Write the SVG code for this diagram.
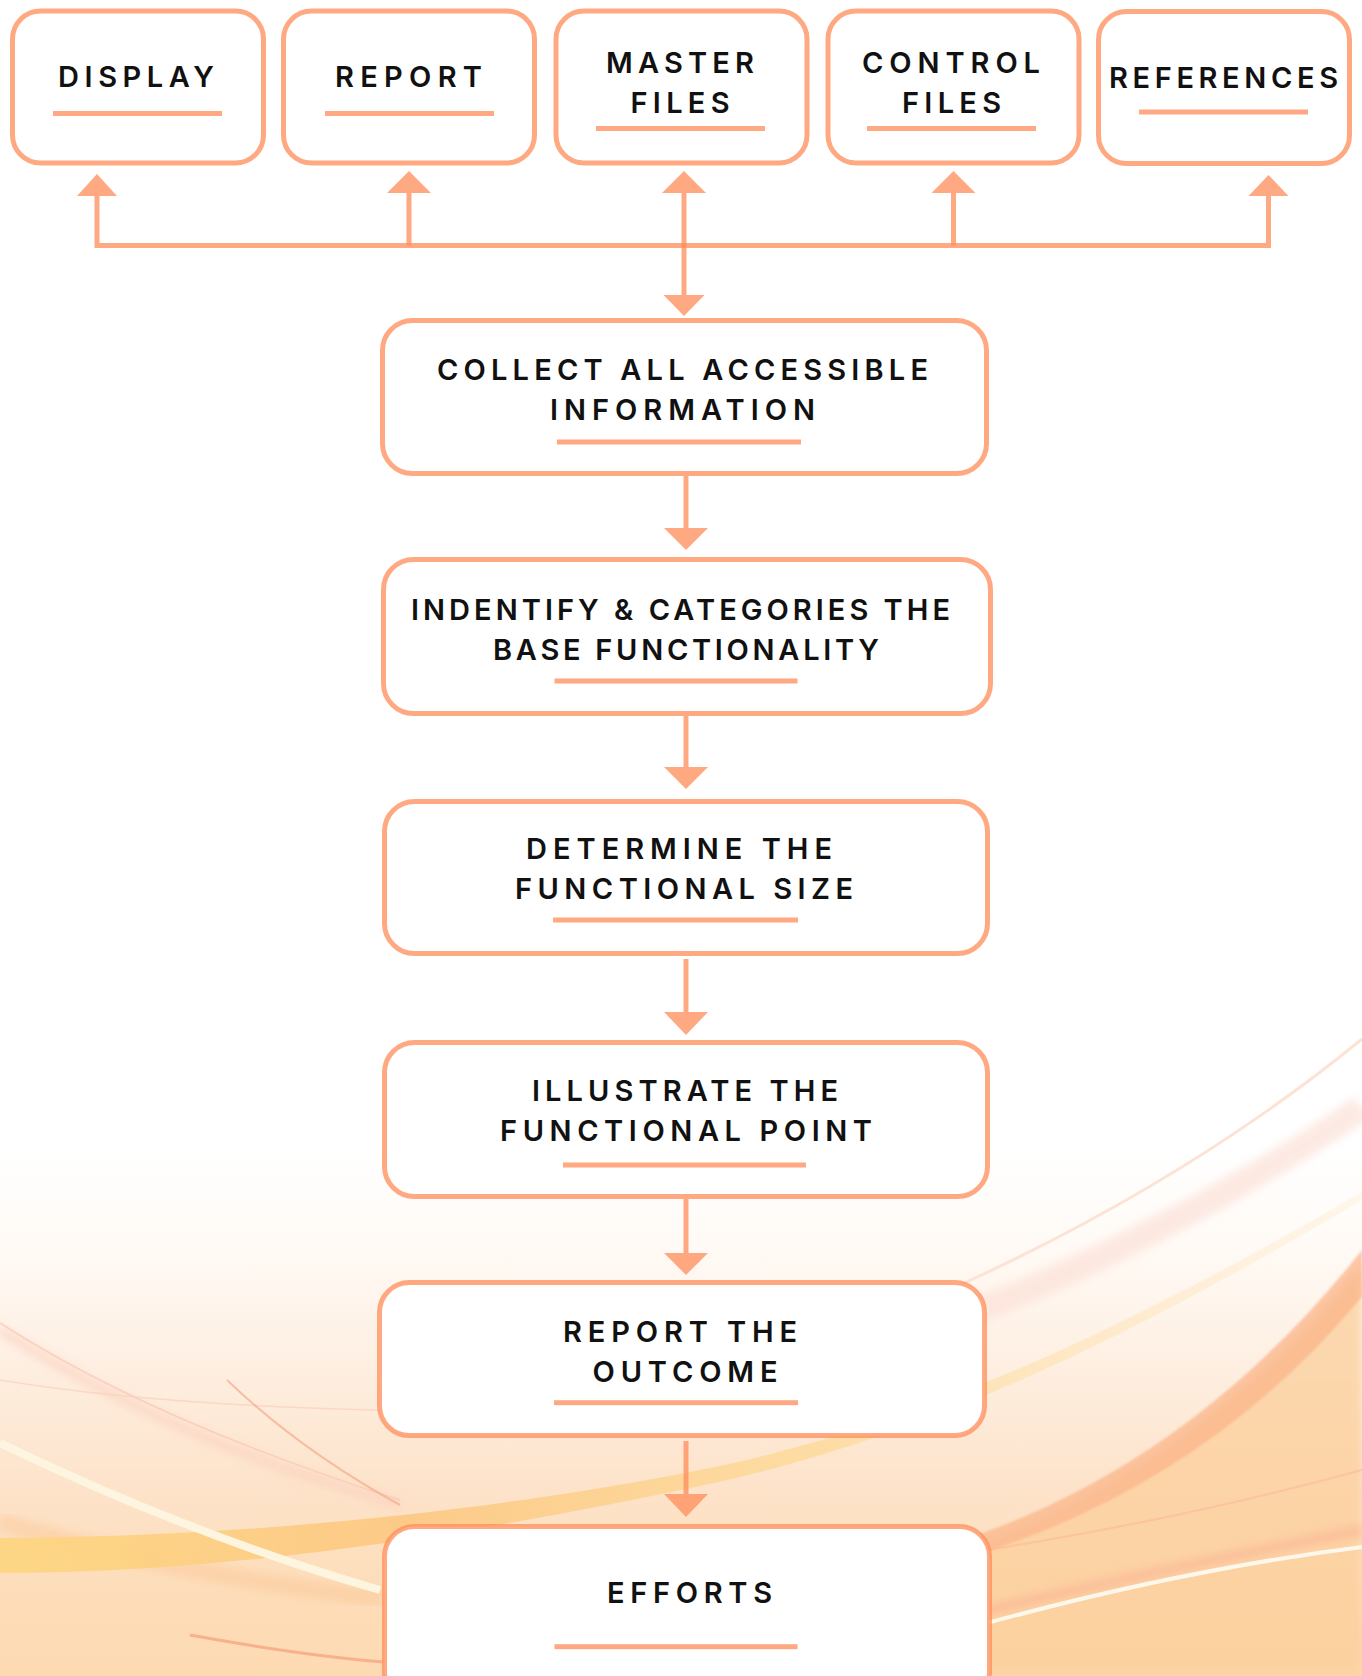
<svg xmlns="http://www.w3.org/2000/svg" width="1362" height="1676" viewBox="0 0 1362 1676">
  <style>
    .box { fill: #FFFFFF; stroke: #FF8C5A; stroke-opacity: 0.75; stroke-width: 5; }
    .lbl { font-family: Inter, "Noto Sans", "Liberation Sans", sans-serif; font-weight: 600; font-size: 29px; fill: #111111; }
    .ul { fill: #FF8C5A; fill-opacity: 0.75; }
    .wire { fill: none; stroke: #FF8C5A; stroke-opacity: 0.75; stroke-width: 5; }
    .head { fill: #FF8C5A; fill-opacity: 0.75; }
  </style>
  <defs>
    <linearGradient id="bg" x1="0" y1="1000" x2="0" y2="1676" gradientUnits="userSpaceOnUse">
      <stop offset="0" stop-color="#FFFFFF"/>
      <stop offset="0.22" stop-color="#FFFFFF"/>
      <stop offset="0.37" stop-color="#FFFAF5"/>
      <stop offset="0.52" stop-color="#FEF0E4"/>
      <stop offset="0.72" stop-color="#FDE3CA"/>
      <stop offset="0.91" stop-color="#FDDCB6"/>
      <stop offset="1" stop-color="#FDDAB2"/>
    </linearGradient>
    <linearGradient id="yel" x1="0" y1="0" x2="1362" y2="0" gradientUnits="userSpaceOnUse">
      <stop offset="0" stop-color="#FDD682" stop-opacity="0.95"/>
      <stop offset="0.3" stop-color="#FCC882" stop-opacity="0.9"/>
      <stop offset="0.6" stop-color="#FDD890" stop-opacity="0.7"/>
      <stop offset="1" stop-color="#FEE9C8" stop-opacity="0.3"/>
    </linearGradient>
    <filter id="soft" x="-10%" y="-10%" width="120%" height="120%"><feGaussianBlur stdDeviation="4"/></filter>
    <filter id="soft1" x="-10%" y="-10%" width="120%" height="120%"><feGaussianBlur stdDeviation="1.2"/></filter>
  </defs>

  <g id="background">
    <rect x="0" y="0" width="1362" height="1676" fill="url(#bg)"/>
    <!-- right side sweeps -->
    <path d="M980,1310 Q1180,1230 1362,1108" fill="none" stroke="#FCE1D8" stroke-width="26" opacity="0.7" filter="url(#soft)"/>
    <path d="M960,1285 Q1190,1180 1362,1039" fill="none" stroke="#FCE3D6" stroke-width="3"/>
    <path d="M900,1600 L980,1548 Q1200,1462 1362,1262 L1362,1676 L900,1676 Z" fill="#FCCF9B" opacity="0.75" filter="url(#soft)"/>
    <path d="M980,1534 Q1200,1455 1362,1250 L1362,1297 Q1210,1480 980,1554 Z" fill="#FBB488" opacity="0.7" filter="url(#soft1)"/>
    <path d="M980,1551 Q1180,1520 1362,1470" fill="none" stroke="#FBB99A" stroke-width="2" opacity="0.6"/>
    <path d="M980,1612 Q1180,1565 1362,1530" fill="none" stroke="#FBAE92" stroke-width="10" opacity="0.55" filter="url(#soft)"/>
    <path d="M980,1625 Q1180,1570 1362,1547" fill="none" stroke="#FEF8EC" stroke-width="4"/>
    <!-- left side sweeps -->
    <path d="M0,1330 Q170,1440 400,1505" fill="none" stroke="#FBCFBD" stroke-width="10" opacity="0.6" filter="url(#soft)"/>
    <path d="M0,1323 Q150,1420 400,1500" fill="none" stroke="#F8C6B2" stroke-width="1.5" opacity="0.7"/>
    <path d="M0,1380 Q150,1405 380,1410" fill="none" stroke="#F8D0BC" stroke-width="1.5" opacity="0.7"/>
    <path d="M227,1380 Q300,1450 400,1505" fill="none" stroke="#F5A98A" stroke-width="2" opacity="0.7"/>
    <path d="M0,1522 Q200,1580 383,1598" fill="none" stroke="#FBC593" stroke-width="18" opacity="0.45" filter="url(#soft)"/>
    <path d="M0,1538 C250,1537 500,1510 700,1470 C900,1430 1100,1345 1362,1192 L1362,1200 C1100,1356 900,1444 700,1486 C500,1528 250,1573 0,1573 Z" fill="url(#yel)"/>
    <path d="M0,1443 Q190,1535 380,1590" fill="none" stroke="#FEF5E0" stroke-width="8"/>
    <path d="M190,1635 Q300,1655 383,1662" fill="none" stroke="#F6A583" stroke-width="3" opacity="0.8"/>
  </g>

  <g id="connectors">
    <path class="wire" d="M97,196 V245.5 H1268.5 V196"/>
    <path class="wire" d="M409,193 V245.5"/>
    <path class="wire" d="M684,193 V295"/>
    <path class="wire" d="M953.5,193 V245.5"/>
    <polygon class="head" points="77,196 117,196 97,174"/>
    <polygon class="head" points="387,193 431,193 409,171"/>
    <polygon class="head" points="662,193 706,193 684,171"/>
    <polygon class="head" points="931.5,193 975.5,193 953.5,171"/>
    <polygon class="head" points="1248.5,196 1288.5,196 1268.5,175"/>
    <polygon class="head" points="663.5,295 704.5,295 684,316"/>

    <path class="wire" d="M686,476 V528"/>
    <polygon class="head" points="664,528 708,528 686,550"/>
    <path class="wire" d="M686,716 V767"/>
    <polygon class="head" points="664,767 708,767 686,789"/>
    <path class="wire" d="M686,959 V1012"/>
    <polygon class="head" points="664,1012 708,1012 686,1035"/>
    <path class="wire" d="M686,1199 V1253"/>
    <polygon class="head" points="664,1253 708,1253 686,1275"/>
    <path class="wire" d="M686,1441 V1494"/>
    <polygon class="head" points="664,1494 708,1494 686,1517"/>
  </g>

  <g id="node-display">
    <rect class="box" x="12.5" y="11" width="251" height="152" rx="28"/>
    <text class="lbl" x="58" y="87" textLength="156" lengthAdjust="spacing">DISPLAY</text>
    <rect class="ul" x="53" y="111" width="169" height="5"/>
  </g>
  <g id="node-report">
    <rect class="box" x="283.5" y="11" width="251" height="152" rx="28"/>
    <text class="lbl" x="335" y="87" textLength="147" lengthAdjust="spacing">REPORT</text>
    <rect class="ul" x="325" y="111" width="169" height="5"/>
  </g>
  <g id="node-master-files">
    <rect class="box" x="556" y="11" width="251" height="152" rx="28"/>
    <text class="lbl" x="606" y="72.7" textLength="148" lengthAdjust="spacing">MASTER</text>
    <text class="lbl" x="630.5" y="113" textLength="99" lengthAdjust="spacing">FILES</text>
    <rect class="ul" x="596" y="126" width="169" height="5"/>
  </g>
  <g id="node-control-files">
    <rect class="box" x="828" y="11" width="251" height="152" rx="28"/>
    <text class="lbl" x="862" y="72.7" textLength="178" lengthAdjust="spacing">CONTROL</text>
    <text class="lbl" x="902" y="113" textLength="99" lengthAdjust="spacing">FILES</text>
    <rect class="ul" x="867" y="126" width="169" height="5"/>
  </g>
  <g id="node-references">
    <rect class="box" x="1098.5" y="11.5" width="251" height="152" rx="28"/>
    <text class="lbl" x="1109" y="88.3" textLength="229" lengthAdjust="spacing">REFERENCES</text>
    <rect class="ul" x="1139" y="109.5" width="169" height="5"/>
  </g>

  <g id="node-collect">
    <rect class="box" x="382.5" y="320.5" width="604" height="153" rx="30"/>
    <text class="lbl" x="437" y="380" textLength="491" lengthAdjust="spacing">COLLECT ALL ACCESSIBLE</text>
    <text class="lbl" x="550" y="420" textLength="265" lengthAdjust="spacing">INFORMATION</text>
    <rect class="ul" x="557" y="439.5" width="244" height="5"/>
  </g>
  <g id="node-identify">
    <rect class="box" x="383.5" y="559.5" width="607" height="154" rx="30"/>
    <text class="lbl" x="411" y="620" textLength="539" lengthAdjust="spacing">INDENTIFY &amp; CATEGORIES THE</text>
    <text class="lbl" x="493" y="660" textLength="386" lengthAdjust="spacing">BASE FUNCTIONALITY</text>
    <rect class="ul" x="554.5" y="678.5" width="243" height="5"/>
  </g>
  <g id="node-determine">
    <rect class="box" x="384.5" y="801.5" width="603" height="152" rx="30"/>
    <text class="lbl" x="526" y="859" textLength="306" lengthAdjust="spacing">DETERMINE THE</text>
    <text class="lbl" x="515" y="899" textLength="338" lengthAdjust="spacing">FUNCTIONAL SIZE</text>
    <rect class="ul" x="553" y="917.5" width="245" height="5"/>
  </g>
  <g id="node-illustrate">
    <rect class="box" x="384.5" y="1042.5" width="603" height="154" rx="30"/>
    <text class="lbl" x="532" y="1101" textLength="306" lengthAdjust="spacing">ILLUSTRATE THE</text>
    <text class="lbl" x="500" y="1141" textLength="372" lengthAdjust="spacing">FUNCTIONAL POINT</text>
    <rect class="ul" x="563" y="1162.5" width="243" height="5"/>
  </g>
  <g id="node-report-outcome">
    <rect class="box" x="379.5" y="1282.5" width="605" height="153" rx="30"/>
    <text class="lbl" x="563" y="1341.7" textLength="234" lengthAdjust="spacing">REPORT THE</text>
    <text class="lbl" x="592.5" y="1381.7" textLength="185" lengthAdjust="spacing">OUTCOME</text>
    <rect class="ul" x="554" y="1400.2" width="244" height="5"/>
  </g>
  <g id="node-efforts">
    <rect class="box" x="384.5" y="1526.5" width="605" height="175" rx="30"/>
    <text class="lbl" x="607" y="1602.7" textLength="165" lengthAdjust="spacing">EFFORTS</text>
    <rect class="ul" x="554.5" y="1644.2" width="243" height="5"/>
  </g>
</svg>
